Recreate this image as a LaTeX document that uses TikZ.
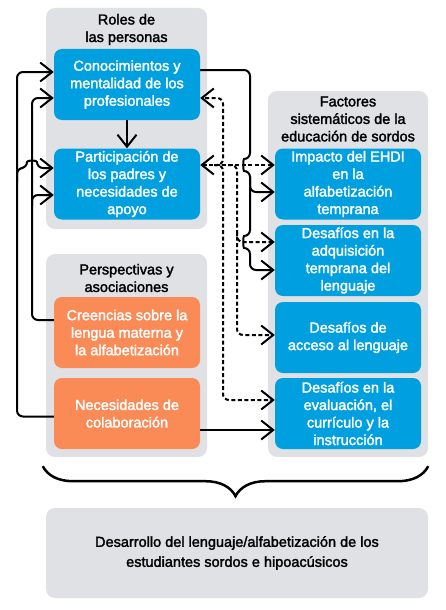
\documentclass[tikz,border=0pt]{standalone}
\usepackage{fontspec}
\setmainfont{Liberation Sans}[FakeBold=2]
\usetikzlibrary{arrows.meta}
\usetikzlibrary{positioning}
\usetikzlibrary{decorations.pathreplacing}
\definecolor{groupgray}{HTML}{DFE1E4}
\definecolor{roleblue}{HTML}{009FDF}
\definecolor{viewsorange}{HTML}{FA8A56}
\tikzstyle{group}=[fill=groupgray, rounded corners=9pt, inner sep=0pt]
\tikzstyle{heading}=[align=center, font=\fontsize{14.5}{17.5}\selectfont]
\tikzstyle{factor}=[rounded corners=8pt, minimum width=146pt, minimum height=71pt, inner sep=0pt,
  text=white, align=center, font=\fontsize{14.5}{17.5}\selectfont]
\tikzstyle{bluebox}=[factor, fill=roleblue]
\tikzstyle{orangebox}=[factor, fill=viewsorange]
\tikzstyle{solidlink}=[line width=2pt, rounded corners=6pt]
\tikzstyle{dashlink}=[solidlink, dash pattern=on 4pt off 2.5pt]
\tikzset{>={Straight Barb[length=12pt,width=19pt]}}

\begin{document}
\begin{tikzpicture}[x=1pt, y=-1pt]
        \useasboundingbox (0,0) rectangle (446,610);

        % Groups
        \node at (126.5,118.5) [group, minimum width=161, minimum height=221] (roles) {};
        \node at (126.5,355.5) [group, minimum width=161, minimum height=203] (views) {};
        \node at (348,274) [group, minimum width=160, minimum height=366] (factores) {};
        \node at (237,553) [group, minimum width=382, minimum height=90, align=center,
          font=\fontsize{14.5}{20}\selectfont] (outcome)
          {Desarrollo del lenguaje/alfabetización de los\\estudiantes sordos e hipoacúsicos};

        % Headings
        \node at (126.5,29.5) [heading] (roles_h) {Roles de\\las personas};
        \node at (126.5,278) [heading] (views_h) {Perspectivas y\\asociaciones};
        \node at (348,119) [heading] (factores_h) {Factores\\sistemáticos de la\\educación de sordos};

        % Roles
        \node at (127,84.5) [bluebox] (conoc) {Conocimientos y\\mentalidad de los\\profesionales};
        \node at (127,184) [bluebox] (partic) {Participación de\\los padres y\\necesidades de\\apoyo};

        % Views
        \node at (127,332.5) [orangebox] (creenc) {Creencias sobre la\\lengua materna y\\la alfabetización};
        \node at (127,413.5) [orangebox] (colab) {Necesidades de\\colaboración};

        % Factors
        \node at (348,184) [bluebox] (ehdi) {Impacto del EHDI\\en la\\alfabetización\\temprana};
        \node at (348,260.5) [bluebox] (adquis) {Desafíos en la\\adquisición\\temprana del\\lenguaje};
        \node at (348,337.5) [bluebox] (acceso) {Desafíos de\\acceso al lenguaje};
        \node at (348,413.5) [bluebox] (evalua) {Desafíos en la\\evaluación, el\\currículo y la\\instrucción};

        % Conoc -> Partic
        \draw [solidlink, ->] (conoc) -- (partic);

        % Conoc -> factors
        \draw [solidlink, ->] ([yshift=14.5pt]conoc.east) -| (250,159)
          .. controls (243,159) and (243,171) .. (250,171) -- (250,236)
          .. controls (243,236) and (243,248) .. (250,248) |- ([yshift=-9.5pt]adquis.west);
        \draw [solidlink, ->] (250,176) |- ([yshift=-8pt]ehdi.west);

        % Views -> roles
        \draw [solidlink, ->] ([yshift=-3pt]colab.west) -| (17,100) |- ([yshift=12.5pt]conoc.west);
        \draw [solidlink, ->] (17,182) |- (27,168) .. controls (27,160) and (37,160) .. (37,168)
          -- ([yshift=16pt]partic.west);
        \draw [solidlink, ->] ([yshift=12.5pt]creenc.west) -| (32,120) |- ([yshift=-13.5pt]conoc.west);
        \draw [solidlink, ->] (32,206) |- ([yshift=-11pt]partic.west);
        \draw [solidlink, ->] ([yshift=-16.5pt]colab.east) -- ([yshift=-16.5pt]evalua.west);

        % Dashed links
        \draw [dashlink, <->] ([yshift=19pt]partic.east) -- ([yshift=19pt]ehdi.west);
        \draw [dashlink, ->] (214,165) -| (223,130) |- ([yshift=-13.5pt]conoc.east);
        \draw [dashlink, ->] (214,165) -| (223,250) |- ([yshift=13.5pt]evalua.west);
        \draw [dashlink, ->] (228,165) -| (237,250) |- ([yshift=2.5pt]acceso.west);
        \draw [dashlink, ->] (237,232) |- ([yshift=18.5pt]adquis.west);

        % Brace
        \draw [line width=2.5pt, decorate, decoration={brace, amplitude=30pt}]
          ([yshift=-9pt]factores.south east) -- ([xshift=-3pt, yshift=-9pt]views.south west);
      \end{tikzpicture}
\end{document}
